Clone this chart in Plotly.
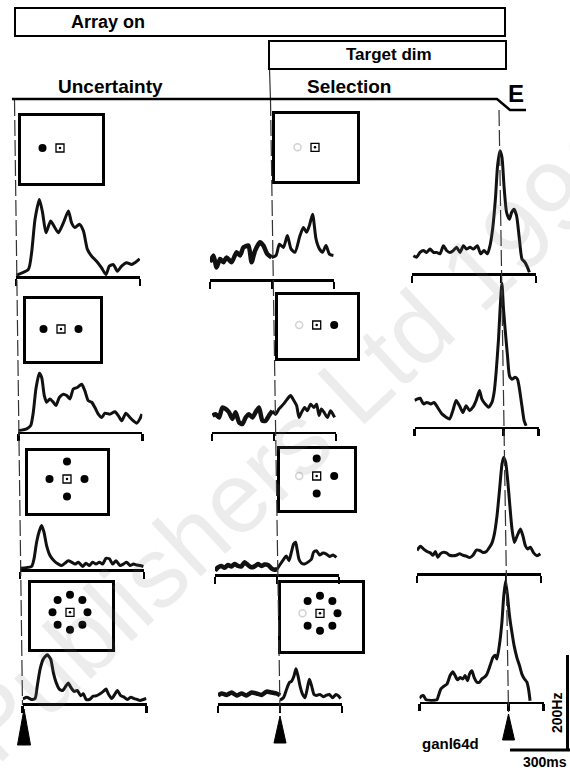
import math
import plotly.graph_objects as go

W, H = 570, 771
MS_PX = 0.2      # pixels per millisecond (300 ms scale bar = 60 px)
HZ_PX = 0.475    # pixels per spike/s (200 Hz scale bar = 95 px)

# ---------------- data (ms, spikes/s) ----------------
# Uncertainty epoch: aligned on array onset
unc1_t = [3, 62, 78, 95, 117, 133, 150, 173, 190, 212, 237, 262, 278, 295, 317, 337, 357, 378, 403, 428, 450, 467, 487, 507, 528, 553, 578, 595, 618]
unc1_hz = [0, 12, 47, 117, 159, 131, 89, 114, 103, 89, 110, 135, 110, 100, 107, 93, 54, 40, 29, 15, 1, 19, 22, 8, 19, 26, 22, 26, 34]
unc2_t = [0, 42, 62, 75, 88, 105, 117, 130, 142, 158, 175, 188, 205, 225, 242, 258, 275, 295, 317, 333, 350, 367, 383, 400, 417, 433, 458, 483, 500, 517, 538, 558, 575, 592, 608, 618]
unc2_hz = [0, 4, 11, 39, 88, 121, 112, 74, 60, 67, 60, 53, 70, 77, 74, 67, 88, 91, 98, 84, 63, 60, 49, 35, 28, 37, 35, 40, 32, 21, 37, 28, 21, 16, 25, 35]
unc3_t = [0, 58, 70, 83, 97, 108, 120, 133, 150, 170, 192, 208, 225, 242, 258, 275, 292, 313, 330, 347, 363, 380, 397, 413, 430, 447, 463, 480, 500, 517, 533, 550, 567, 583, 600, 617]
unc3_hz = [0, 4, 20, 55, 79, 90, 76, 48, 27, 16, 9, 6, 11, 16, 13, 9, 13, 4, 11, 6, 13, 9, 13, 9, 21, 20, 9, 16, 6, 9, 13, 6, 9, 7, 6, 4]
unc4_t = [0, 20, 45, 62, 73, 87, 103, 123, 140, 153, 167, 183, 200, 217, 228, 240, 257, 273, 290, 303, 317, 333, 353, 370, 387, 403, 417, 428, 445, 462, 473, 490, 507, 523, 540, 557, 573, 587, 603, 618]
unc4_hz = [7, 11, 6, 8, 35, 70, 91, 100, 91, 63, 42, 28, 25, 35, 41, 32, 23, 25, 14, 18, 6, 6, 13, 14, 18, 23, 28, 18, 8, 18, 25, 14, 11, 6, 11, 8, 6, 4, 6, 8]

# Selection epoch: aligned on target dimming (pre-dim and post-dim parts)
sel1_pre_t = [-310, -293, -277, -260, -243, -227, -202, -177, -160, -143, -118, -102, -85, -60, -43, -23, -2]
sel1_pre_hz = [34, 48, 23, 41, 34, 44, 34, 55, 48, 65, 69, 34, 58, 76, 69, 51, 44]
sel1_post_t = [-2, 20, 37, 57, 77, 95, 115, 140, 157, 173, 187, 203, 220, 237, 253, 270, 287, 307]
sel1_post_hz = [44, 48, 72, 65, 90, 62, 55, 90, 107, 97, 111, 135, 83, 62, 55, 69, 51, 48]
sel2_pre_t = [-308, -292, -275, -258, -242, -225, -208, -192, -175, -158, -142, -125, -108, -92, -75, -58, -42, -25, -8]
sel2_pre_hz = [32, 35, 28, 49, 46, 39, 25, 39, 18, 14, 28, 35, 28, 39, 49, 21, 21, 32, 42]
sel2_post_t = [-8, 8, 25, 47, 67, 83, 100, 113, 125, 138, 153, 167, 183, 200, 213, 225, 237, 250, 267, 283, 303]
sel2_post_hz = [42, 35, 46, 56, 67, 74, 63, 53, 28, 39, 49, 42, 56, 49, 56, 32, 46, 39, 28, 42, 28]
sel3_pre_t = [-310, -295, -278, -262, -245, -228, -212, -195, -178, -162, -145, -128, -112, -95, -78, -62, -45, -28, -12, 0]
sel3_pre_hz = [5, 12, 15, 11, 17, 14, 19, 15, 14, 23, 17, 12, 14, 19, 15, 18, 17, 10, 7, 8]
sel3_post_t = [0, 17, 33, 47, 60, 72, 83, 93, 100, 110, 122, 138, 155, 172, 183, 197, 213, 230, 247, 263, 280, 297]
sel3_post_hz = [8, 19, 29, 36, 26, 44, 61, 65, 51, 29, 21, 19, 23, 29, 44, 47, 38, 42, 40, 35, 38, 33]
sel4_pre_t = [-310, -292, -267, -242, -217, -192, -167, -142, -117, -92, -67, -42, -17, 0]
sel4_pre_hz = [14, 18, 15, 20, 14, 18, 14, 20, 18, 15, 22, 20, 18, 14]
sel4_post_t = [0, 17, 33, 47, 58, 70, 80, 90, 100, 113, 125, 137, 147, 158, 170, 183, 200, 217, 230, 247, 263, 280, 292, 303]
sel4_post_hz = [4, 9, 27, 41, 44, 55, 70, 55, 34, 16, 9, 30, 48, 34, 16, 14, 16, 11, 14, 16, 9, 16, 13, 7]

# Saccade epoch: aligned on saccade onset
sac1_t = [-438, -422, -405, -388, -372, -355, -338, -322, -305, -288, -272, -255, -238, -222, -205, -188, -172, -155, -138, -118, -102, -85, -68, -55, -42, -28, -17, -5, 5, 15, 28, 42, 53, 65, 78, 92, 105, 120, 132, 142]
sac1_hz = [35, 32, 42, 46, 42, 49, 42, 42, 39, 56, 46, 42, 46, 53, 42, 56, 49, 53, 49, 56, 39, 46, 39, 56, 91, 154, 225, 256, 242, 182, 126, 112, 126, 133, 119, 70, 28, 21, 11, 0]
sac2_t = [-445, -433, -417, -400, -383, -363, -347, -330, -308, -287, -270, -253, -237, -220, -203, -187, -170, -153, -137, -120, -108, -92, -75, -58, -47, -37, -25, -17, -8, 0, 8, 20, 30, 42, 58, 70, 80, 92, 103, 113]
sac2_hz = [53, 56, 58, 46, 49, 46, 49, 39, 25, 18, 14, 32, 53, 42, 28, 42, 32, 39, 53, 74, 56, 46, 39, 49, 70, 112, 182, 246, 300, 246, 204, 147, 105, 98, 102, 98, 77, 42, 11, 0]
sac3_t = [-445, -428, -412, -395, -378, -365, -353, -342, -328, -315, -298, -282, -265, -248, -232, -215, -198, -182, -165, -148, -132, -115, -98, -82, -70, -58, -45, -32, -20, -12, -2, 8, 18, 30, 42, 55, 72, 85, 97, 108, 122, 138, 155, 172]
sac3_hz = [46, 55, 49, 44, 41, 36, 44, 32, 39, 42, 41, 36, 35, 36, 39, 36, 34, 31, 36, 47, 46, 42, 44, 53, 62, 81, 119, 175, 228, 242, 232, 196, 147, 91, 63, 76, 91, 76, 56, 49, 53, 41, 35, 39]
sac4_t = [-445, -435, -425, -412, -358, -350, -338, -325, -308, -292, -278, -267, -255, -242, -228, -217, -205, -195, -183, -172, -158, -145, -133, -122, -108, -92, -78, -67, -58, -45, -33, -25, -15, -5, 5, 17, 28, 42, 55, 67, 78, 92, 100, 108]
sac4_hz = [5, 10, 11, 2, 2, 11, 25, 30, 35, 53, 61, 53, 44, 49, 46, 53, 42, 56, 63, 49, 39, 39, 46, 49, 56, 74, 91, 96, 88, 119, 165, 214, 252, 221, 179, 144, 116, 91, 74, 56, 47, 39, 25, 0]

# Stimulus arrays (angles of the array items, degrees) and the dimming target
set_angles = [[180], [180, 0], [90, 0, 270, 180], [90, 45, 0, 315, 270, 225, 180, 135]]
target_angle = 180

# Text
title_array = "Array on"
title_dim = "Target dim"
label_unc = "Uncertainty"
label_sel = "Selection"
label_eye = "E"
cell_name = "ganl64d"
scale_t_ms = 300
scale_hz = 200
watermark = "Publishers Ltd 1996"

# ---------------- layout geometry (pixels) ----------------
unc_range = [0, 620]
sel_range = [-310, 310]
sac_range = [-445, 175]
unc_x0 = [16, 18.3, 20, 22.7]
sel_x0 = [272, 274, 277, 280]
sac_x0 = [501, 503.5, 506, 508.5]
unc_base = [276, 431.7, 569.3, 703.3]
sel_base = [279.3, 431.7, 574, 703]
sac_base = [273.3, 426.7, 573.3, 701.7]
PANEL_H = 160
# insets: left, right, top, bottom, fixation x, fixation y
unc_inset = [(21, 102, 116, 183, 60, 148), (25.7, 100, 299, 361, 61, 329),
             (28, 107, 451, 513, 67, 479), (30.7, 111.7, 583, 649, 70, 612.3)]
sel_inset = [(275, 356.7, 114, 180.7, 315, 147.3), (278.3, 356.7, 295, 358.3, 316.7, 325),
             (280, 354, 449, 510, 316.7, 476), (280.7, 362, 583, 650.7, 320, 613.3)]
RING = 17.5

FONT = "Liberation Sans, Arial, sans-serif"


def px(x):
    return x / W


def py(y):
    return 1 - y / H


layout = dict(width=W, height=H, margin=dict(l=0, r=0, t=0, b=0),
              paper_bgcolor="white", plot_bgcolor="rgba(0,0,0,0)", showlegend=False)
fig = go.Figure()
axn = [0]


def add_axes(xl, xr, yt, yb, xrange, yrange, xstyle, ystyle):
    axn[0] += 1
    s = "" if axn[0] == 1 else str(axn[0])
    layout["xaxis" + s] = dict(domain=[max(0, px(xl)), min(1, px(xr))], range=xrange, anchor="y" + s, fixedrange=True, **xstyle)
    layout["yaxis" + s] = dict(domain=[max(0, py(yb)), min(1, py(yt))], range=yrange, anchor="x" + s, fixedrange=True, **ystyle)
    return "x" + s, "y" + s


def psth_axes(x0px, base, trange, tickvals):
    xs = dict(showline=True, linecolor="black", linewidth=2.5, ticks="outside", ticklen=7, tickwidth=2.5,
              tickcolor="black", tickvals=tickvals, showticklabels=False, showgrid=False, zeroline=False)
    ys = dict(visible=False)
    lo = -2
    return add_axes(x0px + trange[0] * MS_PX, x0px + trange[1] * MS_PX, base - PANEL_H, base,
                    trange, [lo, lo + PANEL_H / HZ_PX], xs, ys)


def line_trace(t, hz, xa, ya, width=3):
    fig.add_trace(go.Scatter(x=t, y=hz, xaxis=xa, yaxis=ya, mode="lines", hoverinfo="skip",
                             line=dict(color="#111111", width=width, shape="spline", smoothing=0.6)))


def inset(geom, angles, selection):
    l, r, t, b, fx, fy = geom
    st = dict(showline=True, mirror=True, linecolor="black", linewidth=3, ticks="",
              showticklabels=False, showgrid=False, zeroline=False)
    xa, ya = add_axes(l, r, t, b, [(l - fx) / RING, (r - fx) / RING], [(fy - b) / RING, (fy - t) / RING], st, dict(st))
    bx, by, gx, gy = [], [], [], []
    for a in angles:
        cx, cy = math.cos(math.radians(a)), math.sin(math.radians(a))
        if selection and a == target_angle:
            gx.append(cx); gy.append(cy)
        else:
            bx.append(cx); by.append(cy)
    if bx:
        fig.add_trace(go.Scatter(x=bx, y=by, xaxis=xa, yaxis=ya, mode="markers", hoverinfo="skip",
                                 marker=dict(color="black", size=8, line=dict(width=0))))
    if gx:
        fig.add_trace(go.Scatter(x=gx, y=gy, xaxis=xa, yaxis=ya, mode="markers", hoverinfo="skip",
                                 marker=dict(color="#d2d2d2", size=7, symbol="circle-open", line=dict(width=1.5, color="#bdbdbd"))))
    fig.add_trace(go.Scatter(x=[0], y=[0], xaxis=xa, yaxis=ya, mode="markers", hoverinfo="skip",
                             marker=dict(symbol="square-open", size=8, color="black", line=dict(width=1.3, color="black"))))
    fig.add_trace(go.Scatter(x=[0], y=[0], xaxis=xa, yaxis=ya, mode="markers", hoverinfo="skip",
                             marker=dict(symbol="circle", size=2.5, color="black")))


unc_t = [unc1_t, unc2_t, unc3_t, unc4_t]
unc_hz = [unc1_hz, unc2_hz, unc3_hz, unc4_hz]
sel_pre = [(sel1_pre_t, sel1_pre_hz), (sel2_pre_t, sel2_pre_hz), (sel3_pre_t, sel3_pre_hz), (sel4_pre_t, sel4_pre_hz)]
sel_post = [(sel1_post_t, sel1_post_hz), (sel2_post_t, sel2_post_hz), (sel3_post_t, sel3_post_hz), (sel4_post_t, sel4_post_hz)]
sac_t = [sac1_t, sac2_t, sac3_t, sac4_t]
sac_hz = [sac1_hz, sac2_hz, sac3_hz, sac4_hz]

for i in range(4):
    inset(unc_inset[i], set_angles[i], False)
    inset(sel_inset[i], set_angles[i], True)
    xa, ya = psth_axes(unc_x0[i], unc_base[i], unc_range, unc_range)
    line_trace(unc_t[i], unc_hz[i], xa, ya)
    xa, ya = psth_axes(sel_x0[i], sel_base[i], sel_range, [sel_range[0], 0, sel_range[1]])
    line_trace(sel_pre[i][0], sel_pre[i][1], xa, ya, width=4.5)
    line_trace(sel_post[i][0], sel_post[i][1], xa, ya, width=3)
    xa, ya = psth_axes(sac_x0[i], sac_base[i], sac_range, [sac_range[0], 0, sac_range[1]])
    line_trace(sac_t[i], sac_hz[i], xa, ya)

shapes = []
dash = dict(color="#333333", width=1.2, dash="16px,4px")
# event lines
shapes.append(dict(type="line", xref="paper", yref="paper", x0=px(14.5), y0=py(100), x1=px(22.5), y1=py(705), line=dash))
shapes.append(dict(type="line", xref="paper", yref="paper", x0=px(269.5), y0=py(69), x1=px(270.5), y1=py(100), line=dict(color="#333333", width=1.2)))
shapes.append(dict(type="line", xref="paper", yref="paper", x0=px(270.5), y0=py(100), x1=px(280), y1=py(712), line=dash))
shapes.append(dict(type="line", xref="paper", yref="paper", x0=px(499), y0=py(110), x1=px(508.5), y1=py(712), line=dash))
# top event boxes
shapes.append(dict(type="rect", xref="paper", yref="paper", x0=px(15), y0=py(8), x1=px(505), y1=py(36), line=dict(color="black", width=2)))
shapes.append(dict(type="rect", xref="paper", yref="paper", x0=px(269), y0=py(41), x1=px(506), y1=py(69), line=dict(color="black", width=2)))
# eye position trace
shapes.append(dict(type="path", xref="paper", yref="paper",
                   path=f"M {px(12)},{py(99)} L {px(497)},{py(99)} L {px(510)},{py(110)} L {px(526)},{py(110)}",
                   line=dict(color="black", width=2.5)))
# event arrowheads
for (ax_, ay_, hw, by) in [(24, 709, 6.5, 745), (280, 716, 6, 743), (508.5, 714, 6, 740)]:
    shapes.append(dict(type="path", xref="paper", yref="paper",
                       path=f"M {px(ax_)},{py(ay_)} L {px(ax_ - hw)},{py(by)} L {px(ax_ + hw)},{py(by)} Z",
                       fillcolor="black", line=dict(color="black", width=1)))
# scale bars
sb_x, sb_y = 567.5, 750
shapes.append(dict(type="line", xref="paper", yref="paper", x0=px(sb_x), y0=py(sb_y), x1=px(sb_x), y1=py(sb_y - scale_hz * HZ_PX), line=dict(color="black", width=3)))
shapes.append(dict(type="line", xref="paper", yref="paper", x0=px(570 - scale_t_ms * MS_PX), y0=py(sb_y), x1=px(570), y1=py(sb_y), line=dict(color="black", width=3)))
layout["shapes"] = shapes


def ann(text, x, y, size, font=FONT, angle=0, color="black", bold=True):
    return dict(text=f"<b>{text}</b>" if bold else text, x=px(x), y=py(y), xref="paper", yref="paper",
                showarrow=False, xanchor="center", yanchor="middle", textangle=angle,
                font=dict(family=font, size=size, color=color))


layout["annotations"] = [
    ann(watermark, 296, 440, 100, angle=-43, color="rgba(120,120,120,0.14)", bold=False),
    ann(title_array, 108, 22, 18),
    ann(title_dim, 389, 55, 17),
    ann(label_unc, 110, 86, 19),
    ann(label_sel, 349, 86, 19),
    ann(label_eye, 516, 93, 24),
    ann(cell_name, 450, 743, 15),
    ann(f"{scale_t_ms}ms", 545, 762, 14),
    ann(f"{scale_hz}Hz", 557, 713, 14, angle=-90),
]

fig.update_layout(**layout)
fig.write_html("out.html", config={"displayModeBar": False, "staticPlot": True},
               post_script="document.body.style.margin='0';document.body.style.overflow='hidden';")
